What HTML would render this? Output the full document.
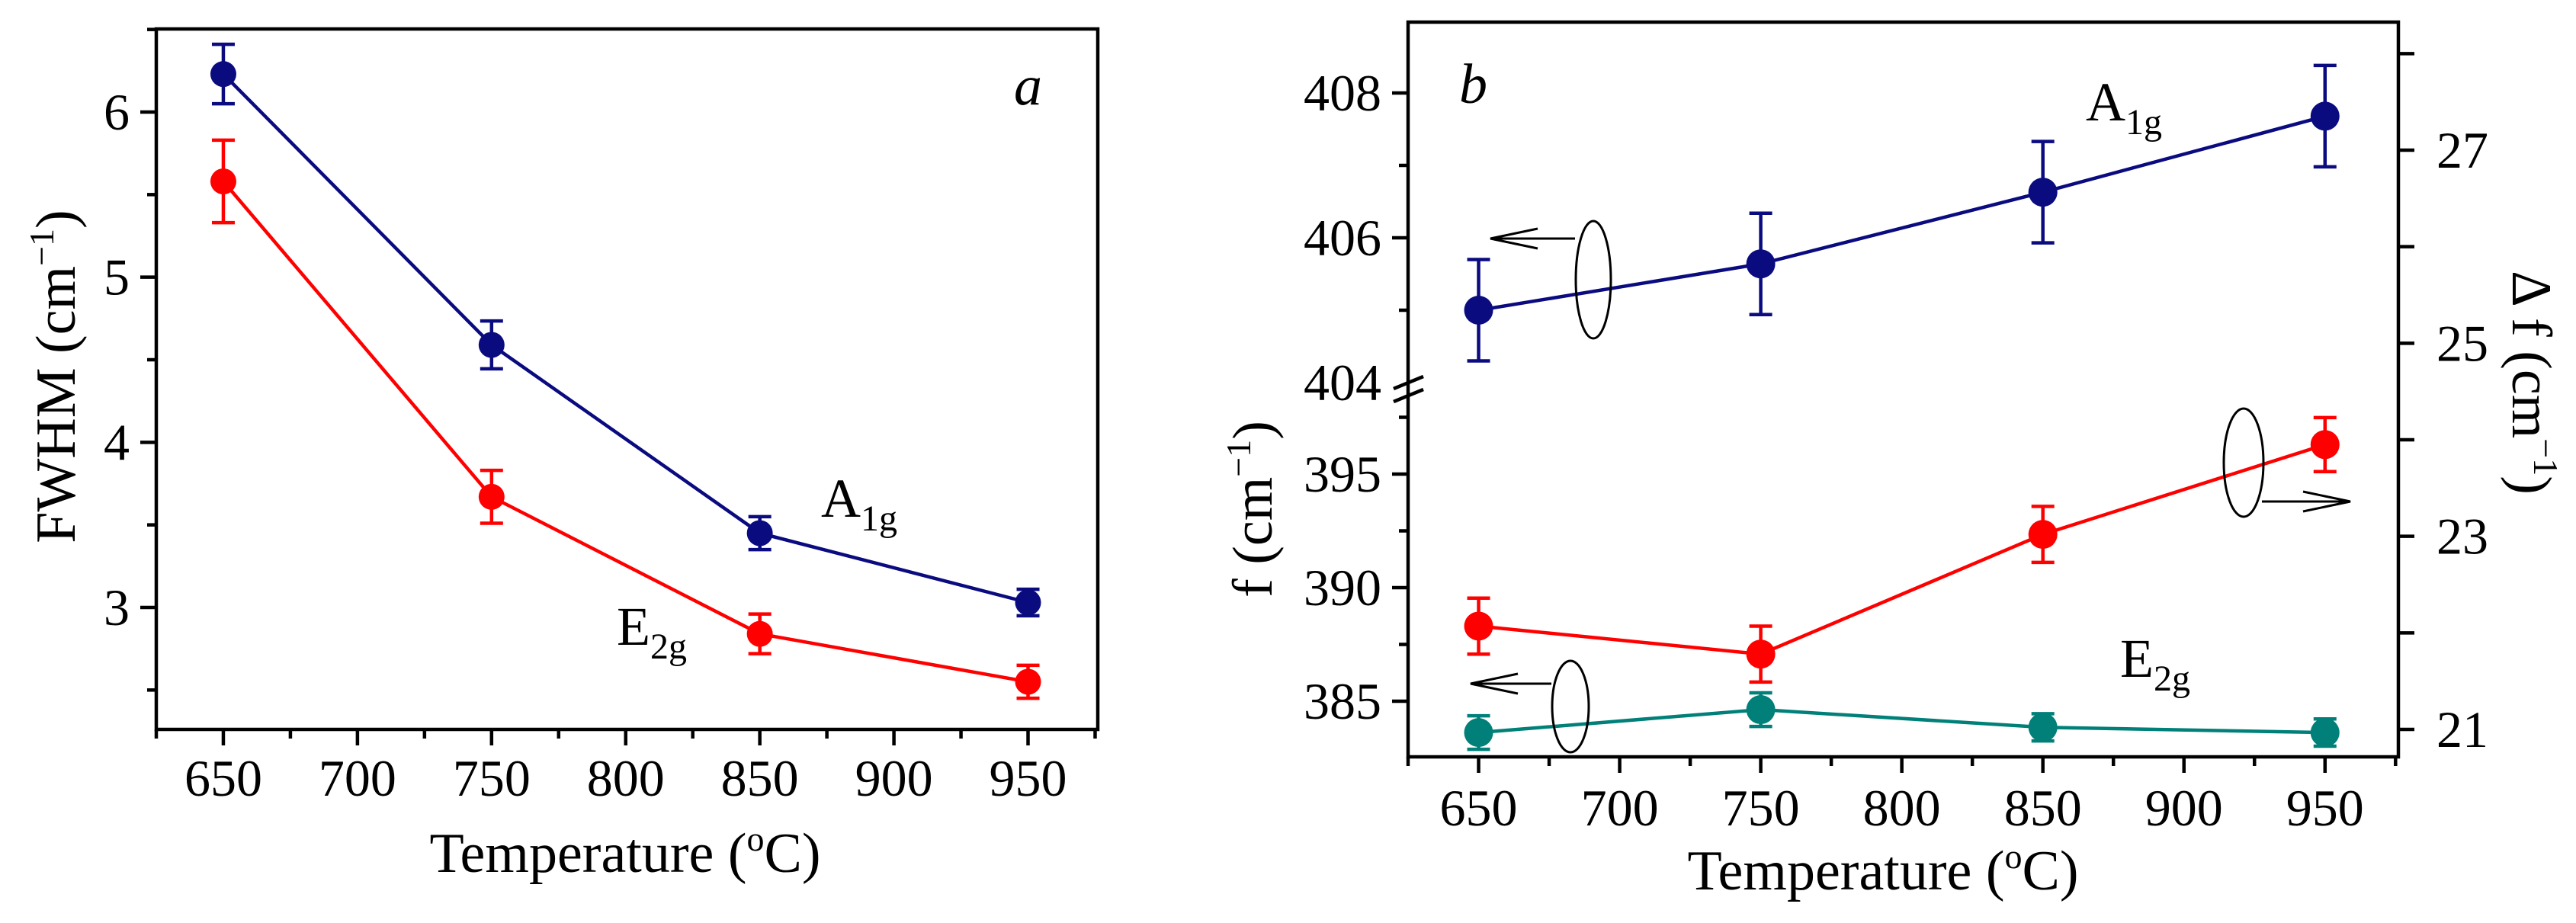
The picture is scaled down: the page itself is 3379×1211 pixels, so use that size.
<!DOCTYPE html>
<html><head><meta charset="utf-8"><style>
html,body{margin:0;padding:0;background:#fff;}
svg{display:block;font-family:"Liberation Serif",serif;}
</style></head><body>
<svg id="chart" width="3379" height="1211" viewBox="0 0 3379 1211" xmlns="http://www.w3.org/2000/svg">
<rect width="3379" height="1211" fill="#fff"/>
<g id="pa"></g>
<g id="pb"></g>
</svg>
<script>
// ---- data ----
const temps = [650, 750, 850, 950];
const xTicks = [650, 700, 750, 800, 850, 900, 950];
// panel a FWHM
const fwhmA1g = [6.23, 4.59, 3.45, 3.03];
const fwhmA1gErr = [0.18, 0.145, 0.10, 0.08];
const fwhmE2g = [5.58, 3.67, 2.84, 2.55];
const fwhmE2gErr = [0.25, 0.16, 0.12, 0.10];
const aYTicks = [3, 4, 5, 6];
// panel b
const freqA1g = [405.0, 405.64, 406.63, 407.68];
const freqA1gErr = [0.7, 0.7, 0.7, 0.7];
const freqE2g = [383.62, 384.63, 383.85, 383.62];
const freqE2gErr = [0.74, 0.74, 0.6, 0.6];
const deltaF = [22.07, 21.78, 23.02, 23.95];
const deltaFErr = [0.29, 0.29, 0.29, 0.28];
const bUpperTicks = [404, 406, 408];
const bLowerTicks = [385, 390, 395];
const bRightTicks = [21, 23, 25, 27];

const NS = "http://www.w3.org/2000/svg";
function mk(parent, tag, attrs, text) {
  const e = document.createElementNS(NS, tag);
  for (const k in attrs) e.setAttribute(k, attrs[k]);
  if (text !== undefined) e.textContent = text;
  parent.appendChild(e);
  return e;
}
function lin(d0, d1, r0, r1) { return v => r0 + (v - d0) * (r1 - r0) / (d1 - d0); }

const NAVY = "#0b0b80", RED = "#ff0000", TEAL = "#008078";

function series(g, name, xs, ys, errs, xf, yf, color, r) {
  const sg = mk(g, "g", {});
  
  
  let d = "";
  xs.forEach((x, i) => { d += (i ? "L" : "M") + xf(x) + " " + yf(ys[i]); });
  const ln = mk(sg, "path", { d: d, fill: "none", stroke: color, "stroke-width": 4.5 });
  
  
  xs.forEach((x, i) => {
    const cx = xf(x), cy = yf(ys[i]), t = yf(ys[i] + errs[i]), b = yf(ys[i] - errs[i]);
    const eb = mk(sg, "path", { d: `M${cx} ${t}V${b}M${cx-15} ${t}H${cx+15}M${cx-15} ${b}H${cx+15}`, stroke: color, "stroke-width": 4.5, fill: "none" });
    
    
    const c = mk(sg, "circle", { cx: cx, cy: cy, r: r, fill: color });
    
    
  });
}

// ---------- Panel A ----------
(function () {
  const g = document.getElementById("pa");
  const L = 205, R = 1440, T = 38, B = 957;
  const x = lin(625, 976, L, R);
  const y = lin(3, 6, 797, 147);
  const ax = mk(g, "rect", { x: L, y: T, width: R - L, height: B - T, fill: "none", stroke: "#000", "stroke-width": 4.5 });
  
  
  for (let v = 2.5; v <= 6.5; v += 0.5) {
    const major = Math.abs(v - Math.round(v)) < 1e-6;
    const tk = mk(g, "line", { x1: L, x2: L - (major ? 21 : 12), y1: y(v), y2: y(v), stroke: "#000", "stroke-width": 4.5 });
    
    
  }
  aYTicks.forEach(v => {
    const t = mk(g, "text", { x: 170, y: y(v) + 23, "font-size": 68, "text-anchor": "end" }, String(v));
    
    
  });
  for (let v = 625; v <= 975; v += 25) {
    const major = v % 50 === 0;
    const tk = mk(g, "line", { x1: x(v), x2: x(v), y1: B, y2: B + (major ? 21 : 12), stroke: "#000", "stroke-width": 4.5 });
    
    
  }
  xTicks.forEach(v => {
    const t = mk(g, "text", { x: x(v), y: 1044, "font-size": 68, "text-anchor": "middle" }, String(v));
    
    
  });
  const xt = mk(g, "text", { x: 820, y: 1144, "font-size": 74, "text-anchor": "middle" });
  
  
  xt.innerHTML = 'Temperature (<tspan dy="-28" font-size="46">o</tspan><tspan dy="28">C)</tspan>';
  const yt = mk(g, "text", { x: 0, y: 0, "font-size": 74, "text-anchor": "middle", transform: "translate(98 494) rotate(-90)" });
  
  
  yt.innerHTML = 'FWHM (cm<tspan dy="-28" font-size="46">−1</tspan><tspan dy="28">)</tspan>';
  series(g, "fwhm-a1g", temps, fwhmA1g, fwhmA1gErr, x, y, NAVY, 17);
  series(g, "fwhm-e2g", temps, fwhmE2g, fwhmE2gErr, x, y, RED, 17);
  const la = mk(g, "text", { x: 1330, y: 137, "font-size": 74, "font-style": "italic" }, "a");
  
  
  const a1 = mk(g, "text", { x: 1077, y: 678, "font-size": 72 });
  
  
  a1.innerHTML = 'A<tspan dy="18" font-size="48">1g</tspan>';
  const e2 = mk(g, "text", { x: 809, y: 846, "font-size": 72 });
  
  
  e2.innerHTML = 'E<tspan dy="18" font-size="48">2g</tspan>';
})();

// ---------- Panel B ----------
(function () {
  const g = document.getElementById("pb");
  const L = 1847, R = 3146, T = 29, B = 993;
  const x = lin(625, 976, L, R);
  const yU = lin(404, 408, 502, 122);
  const yL = lin(385, 395, 920, 622);
  const yR = lin(21, 27, 957, 197);
  const fr = mk(g, "rect", { x: L, y: T, width: R - L, height: B - T, fill: "none", stroke: "#000", "stroke-width": 4.5 });
  
  
  const br = mk(g, "path", { d: `M${L-19} ${510}L${L+20} ${494}M${L-19} ${527}L${L+20} ${511}`, stroke: "#000", "stroke-width": 4.5, fill: "none" });
  
  
  function ytick(yy, major) {
    const tk = mk(g, "line", { x1: L, x2: L - (major ? 21 : 12), y1: yy, y2: yy, stroke: "#000", "stroke-width": 4.5 });
    
    
  }
  [405, 406, 407, 408].forEach(v => ytick(yU(v), v % 2 === 0));
  [385, 387.5, 390, 392.5, 395, 397.5].forEach(v => ytick(yL(v), v % 5 === 0));
  bUpperTicks.forEach(v => {
    const t = mk(g, "text", { x: 1812, y: yU(v) + 23, "font-size": 68, "text-anchor": "end" }, String(v));
    
    
  });
  bLowerTicks.forEach(v => {
    const t = mk(g, "text", { x: 1812, y: yL(v) + 23, "font-size": 68, "text-anchor": "end" }, String(v));
    
    
  });
  for (let v = 21; v <= 28; v++) {
    const tk = mk(g, "line", { x1: R, x2: R + 21, y1: yR(v), y2: yR(v), stroke: "#000", "stroke-width": 4.5 });
    
    
  }
  bRightTicks.forEach(v => {
    const t = mk(g, "text", { x: 3196, y: yR(v) + 23, "font-size": 68 }, String(v));
    
    
  });
  for (let v = 625; v <= 975; v += 25) {
    const major = v % 50 === 0;
    const tk = mk(g, "line", { x1: x(v), x2: x(v), y1: B, y2: B + (major ? 21 : 12), stroke: "#000", "stroke-width": 4.5 });
    
    
  }
  xTicks.forEach(v => {
    const t = mk(g, "text", { x: x(v), y: 1083, "font-size": 68, "text-anchor": "middle" }, String(v));
    
    
  });
  const xt = mk(g, "text", { x: 2470, y: 1167, "font-size": 74, "text-anchor": "middle" });
  
  
  xt.innerHTML = 'Temperature (<tspan dy="-28" font-size="46">o</tspan><tspan dy="28">C)</tspan>';
  const yt = mk(g, "text", { x: 0, y: 0, "font-size": 74, "text-anchor": "middle", transform: "translate(1668 668) rotate(-90)" });
  
  
  yt.innerHTML = 'f (cm<tspan dy="-28" font-size="46">−1</tspan><tspan dy="28">)</tspan>';
  const rt = mk(g, "text", { x: 0, y: 0, "font-size": 74, "text-anchor": "middle", transform: "translate(3296 502) rotate(90)" });
  
  
  rt.innerHTML = 'Δ f (cm<tspan dy="-28" font-size="46">−1</tspan><tspan dy="28">)</tspan>';

  series(g, "freq-a1g", temps, freqA1g, freqA1gErr, x, yU, NAVY, 19);
  series(g, "delta-f", temps, deltaF, deltaFErr, x, yR, RED, 19);
  series(g, "freq-e2g", temps, freqE2g, freqE2gErr, x, yL, TEAL, 19);

  function ell(cx, cy, rx, ry, ax1, ay, ax2, name) {
    const gg = mk(g, "g", { fill: "none", stroke: "#000", "stroke-width": 3 });
    
    
    mk(gg, "ellipse", { cx: cx, cy: cy, rx: rx, ry: ry });
    const dir = ax2 > ax1 ? -1 : 1;
    mk(gg, "path", { d: `M${ax1} ${ay}H${ax2}M${ax2 + dir*62} ${ay-13}L${ax2} ${ay}L${ax2 + dir*62} ${ay+13}` });
  }
  ell(2090, 367, 23, 77, 2066, 313, 1955, "a1g-axis-indicator");
  ell(2060, 927, 24, 60, 2035, 897, 1929, "e2g-axis-indicator");
  ell(2943, 607, 26, 71, 2967, 658, 3083, "delta-f-axis-indicator");

  const lb = mk(g, "text", { x: 1914, y: 135, "font-size": 74, "font-style": "italic" }, "b");
  
  
  const a1 = mk(g, "text", { x: 2736, y: 158, "font-size": 72 });
  
  
  a1.innerHTML = 'A<tspan dy="18" font-size="48">1g</tspan>';
  const e2 = mk(g, "text", { x: 2781, y: 888, "font-size": 72 });
  
  
  e2.innerHTML = 'E<tspan dy="18" font-size="48">2g</tspan>';
})();
</script>
</body></html>
